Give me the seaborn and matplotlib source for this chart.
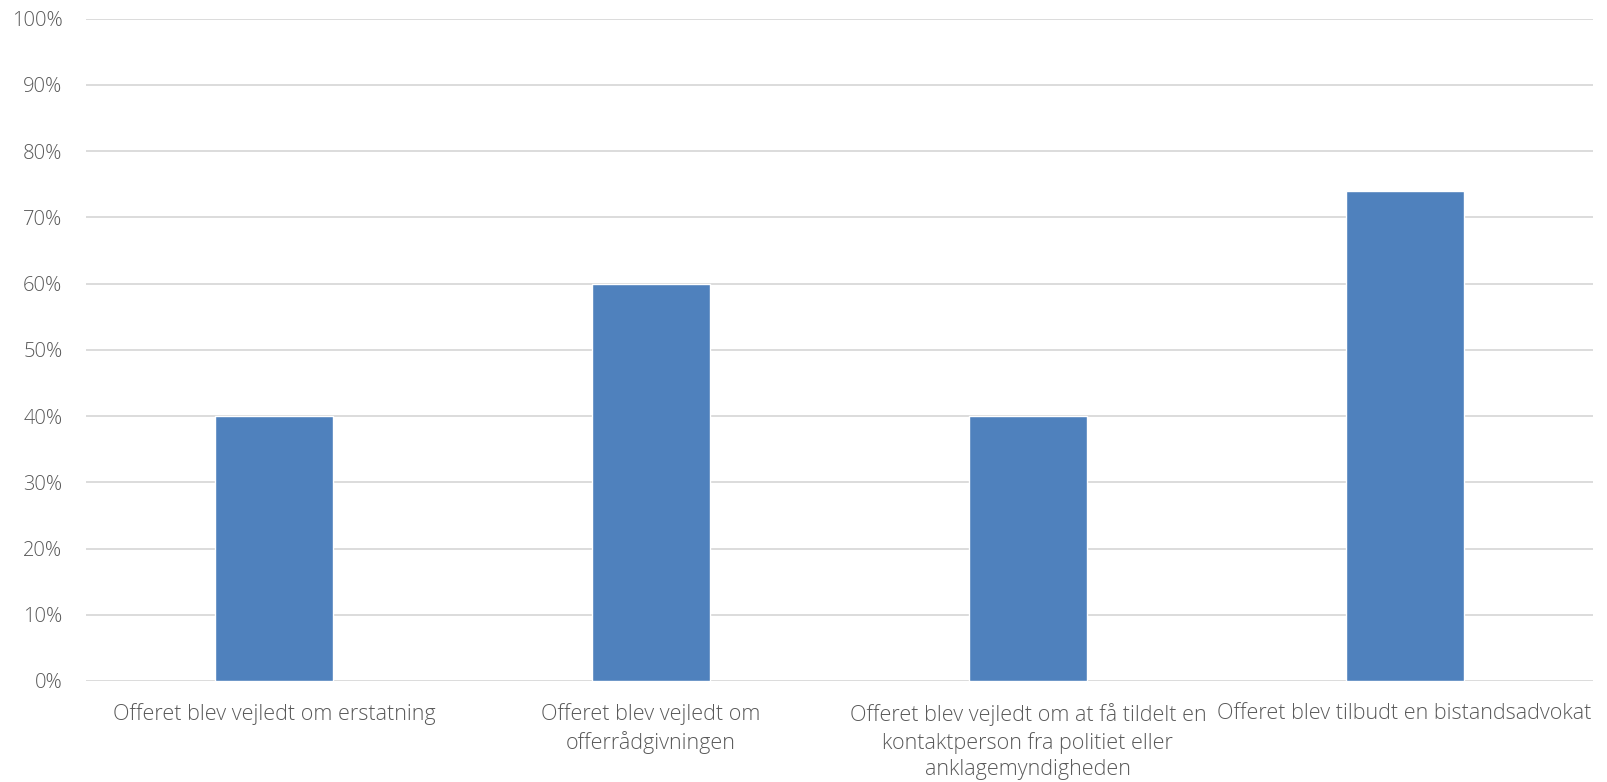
import matplotlib
matplotlib.use("Agg")
import matplotlib.pyplot as plt
import seaborn as sns
import pandas as pd
from matplotlib.ticker import PercentFormatter

categories = [
    "Offeret blev vejledt om erstatning",
    "Offeret blev vejledt om\nofferrådgivningen",
    "Offeret blev vejledt om at få tildelt en\nkontaktperson fra politiet eller\nanklagemyndigheden",
    "Offeret blev tilbudt en bistandsadvokat",
]
values = [40, 60, 40, 74]
yticks = list(range(0, 101, 10))

sns.set_theme(style="white")
plt.rcParams['font.family'] = ['Open Sans', 'DejaVu Sans']

fig = plt.figure(figsize=(16.08, 7.82), dpi=100)
ax = fig.add_axes([0.0535, 0.1292, 0.9372, 0.8469])

df = pd.DataFrame({"cat": categories, "val": values})
sns.barplot(data=df, x="cat", y="val", color="#4F81BD", saturation=1, width=0.313, ax=ax, zorder=3)

ax.set_ylim(0, 100)
ax.set_xlim(-0.5, 3.5)
ax.set_yticks(yticks)
ax.yaxis.set_major_formatter(PercentFormatter(decimals=0))
ax.yaxis.grid(True, color="#D9D9D9", linewidth=1.3, zorder=0)
ax.set_axisbelow(True)
for s in ax.spines.values():
    s.set_visible(False)
ax.set_xlabel("")
ax.set_ylabel("")
ax.tick_params(axis="y", length=0, pad=17, labelsize=14.5, labelcolor="#595959")
ax.tick_params(axis="x", length=0, pad=16, labelsize=15.5, labelcolor="#595959")
for lbl in ax.get_xticklabels():
    lbl.set_fontweight("light")
    lbl.set_linespacing(1.33)
for lbl in ax.get_yticklabels():
    lbl.set_fontweight("light")

fig.savefig("out.png", dpi=100)
